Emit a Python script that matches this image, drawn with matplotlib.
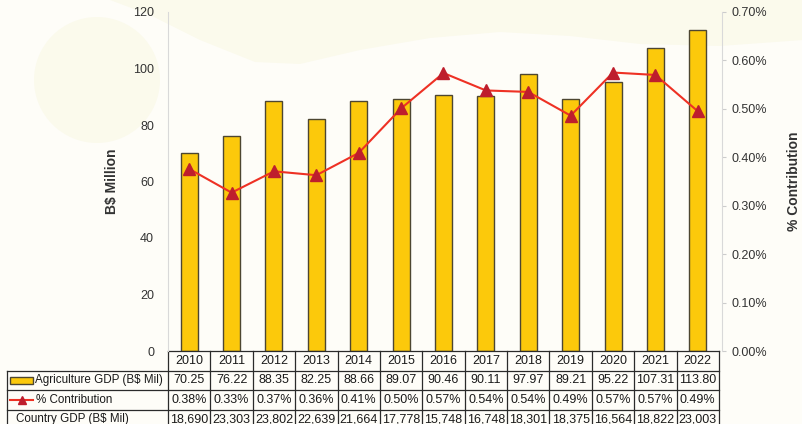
import numpy as np
import matplotlib.pyplot as plt
from matplotlib import transforms
from matplotlib.lines import Line2D
from matplotlib.patches import Rectangle, Ellipse, Polygon

plt.rcParams["font.family"] = ["Liberation Sans", "DejaVu Sans"]

years = ["2010", "2011", "2012", "2013", "2014", "2015", "2016",
         "2017", "2018", "2019", "2020", "2021", "2022"]
agri_gdp = [70.25, 76.22, 88.35, 82.25, 88.66, 89.07, 90.46,
            90.11, 97.97, 89.21, 95.22, 107.31, 113.80]
contribution = [0.376, 0.327, 0.371, 0.363, 0.409, 0.501, 0.574,
                0.538, 0.535, 0.486, 0.575, 0.570, 0.495]
contrib_labels = ["0.38%", "0.33%", "0.37%", "0.36%", "0.41%", "0.50%", "0.57%",
                  "0.54%", "0.54%", "0.49%", "0.57%", "0.57%", "0.49%"]
country_labels = ["18,690", "23,303", "23,802", "22,639", "21,664", "17,778", "15,748",
                  "16,748", "18,301", "18,375", "16,564", "18,822", "23,003"]

W, H = 803, 424
bg = "#FEFDF8"
deco = "#FBFAEC"
bar_col = "#FCC90B"
bar_edge = "#4d4631"
line_col = "#EE3124"
mark_col = "#BE1E2D"
txt = "#333333"

fig = plt.figure(figsize=(W / 100, H / 100), dpi=100, facecolor=bg)

# faint background decoration (pixel coords)
def px(x, y):
    return (x / W, 1 - y / H)

fig.patches.append(Ellipse(px(97, 80), 126 / W, 126 / H, transform=fig.transFigure,
                           facecolor=deco, edgecolor="none", zorder=-5))
wave = [(110, 0), (150, 15), (200, 40), (255, 62), (300, 64), (360, 50),
        (430, 38), (500, 32), (570, 36), (640, 44), (720, 46), (803, 40), (803, 0)]
fig.patches.append(Polygon([px(*p) for p in wave], closed=True, transform=fig.transFigure,
                           facecolor=deco, edgecolor="none", zorder=-5))

left, right, top, bottom = 168, 719, 12, 351
ax = fig.add_axes([left / W, 1 - bottom / H, (right - left) / W, (bottom - top) / H])
ax.patch.set_alpha(0)

x = np.arange(len(years))
ax.bar(x, agri_gdp, width=0.4, color=bar_col, edgecolor=bar_edge, linewidth=1, zorder=2)
ax.set_xlim(-0.5, len(years) - 0.5)
ax.set_ylim(0, 120)
ax.set_yticks(np.arange(0, 121, 20))
ax.set_xticks([])
ax.tick_params(axis="y", length=0, labelsize=9, colors=txt, pad=10)
ax.set_ylabel(r"B\$ Million", fontsize=10, fontweight="bold", color=txt, labelpad=10)
for s in ["top", "right", "bottom"]:
    ax.spines[s].set_visible(False)
ax.spines["left"].set_color("#d9d9d9")

ax2 = ax.twinx()
ax2.patch.set_alpha(0)
ax2.plot(x, contribution, color=line_col, lw=1.5, marker="^", markersize=8,
         markerfacecolor=mark_col, markeredgecolor=mark_col, zorder=3)
ax2.set_ylim(0, 0.7)
ax2.set_yticks(np.arange(0, 0.71, 0.1))
ax2.set_yticklabels([f"{v:.2f}%" for v in np.arange(0, 0.71, 0.1)])
ax2.tick_params(axis="y", length=3, colors=txt, labelsize=9, pad=4)
ax2.tick_params(axis="y", color="#cccccc")
ax2.set_ylabel("% Contribution", fontsize=10, fontweight="bold", color=txt,
               rotation=90, labelpad=14.5)
for s in ["top", "left", "bottom"]:
    ax2.spines[s].set_visible(False)
ax2.spines["right"].set_color("#d9d9d9")
ax2.spines["right"].set_position(("outward", 2))

# data table below the chart
rh = 19.5 / (bottom - top)
lab_x = (7 - left) / (right - left)
tr = transforms.blended_transform_factory(ax.transData, ax.transAxes)
n = len(years)
lc = "#2b2b2b"

def hline(y, x0_axes):
    ax.add_line(Line2D([x0_axes, 1], [y, y], transform=ax.transAxes, color=lc,
                       lw=0.9, clip_on=False))

hline(0, 0)
for k in range(1, 4):
    hline(-k * rh, lab_x)
for k in range(n + 1):
    ax.add_line(Line2D([k - 0.5, k - 0.5], [0, -4.5 * rh], transform=tr, color=lc,
                       lw=0.9, clip_on=False))
ax.add_line(Line2D([lab_x, lab_x], [-rh, -4.5 * rh], transform=ax.transAxes, color=lc,
                   lw=0.9, clip_on=False))

rows = [years, [f"{v:.2f}" for v in agri_gdp], contrib_labels, country_labels]
for r, vals in enumerate(rows):
    yc = -(r + 0.5) * rh
    for i, v in enumerate(vals):
        ax.text(i, yc, v, transform=tr, ha="center", va="center", fontsize=9,
                color="#1a1a1a", clip_on=False)

# row labels with legend keys
fx = lambda p: (p - left) / (right - left)
ax.add_patch(Rectangle((fx(10), -1.5 * rh - 3.5 / (bottom - top)),
                       23 / (right - left), 7 / (bottom - top), transform=ax.transAxes,
                       facecolor=bar_col, edgecolor=bar_edge, lw=1, clip_on=False))
ax.text(fx(35), -1.5 * rh, r"Agriculture GDP (B\$ Mil)",
        transform=ax.transAxes, ha="left", va="center", fontsize=8.4, color="#1a1a1a")
ax.add_line(Line2D([fx(10), fx(33)], [-2.5 * rh, -2.5 * rh], transform=ax.transAxes,
                   color=line_col, lw=1.5, clip_on=False))
ax.add_line(Line2D([fx(21.5)], [-2.5 * rh], transform=ax.transAxes,
                   marker="^", markersize=6, color=mark_col, clip_on=False))
ax.text(fx(36), -2.5 * rh, "% Contribution",
        transform=ax.transAxes, ha="left", va="center", fontsize=8.4, color="#1a1a1a")
ax.text(fx(16), -3.5 * rh, r"Country GDP (B\$ Mil)",
        transform=ax.transAxes, ha="left", va="center", fontsize=8.4, color="#1a1a1a")

fig.savefig("out.png", dpi=100, facecolor=bg)
